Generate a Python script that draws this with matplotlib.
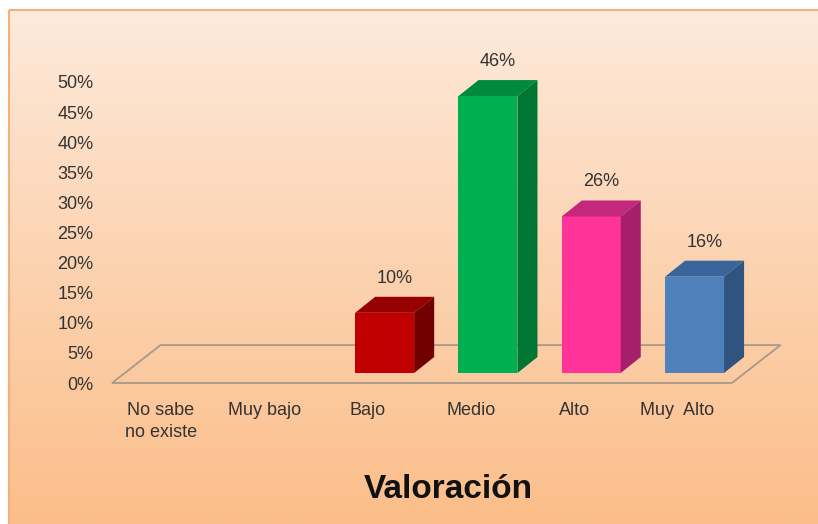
import numpy as np
import matplotlib
matplotlib.use('Agg')
import matplotlib.pyplot as plt
from matplotlib.patches import Polygon, Rectangle

plt.rcParams['font.family'] = ['Liberation Sans', 'DejaVu Sans']

# data
categories = ['No sabe\nno existe', 'Muy bajo', 'Bajo', 'Medio', 'Alto', 'Muy  Alto']
values = [0, 0, 10, 46, 26, 16]
front_colors = ['#C00000', '#C00000', '#C00000', '#00B050', '#FF3399', '#4F81BD']
top_colors = ['#960000', '#960000', '#960000', '#00893F', '#C4287D', '#3A659A']
side_colors = ['#720000', '#720000', '#720000', '#007534', '#A51F6A', '#2F5480']
yticks = list(range(0, 55, 5))
title = 'Valoración'

W, H = 818, 524
fig = plt.figure(figsize=(W / 100, H / 100), dpi=100)

# background gradient with border
bg = fig.add_axes([0, 0, 1, 1])
bg.set_xlim(0, W)
bg.set_ylim(H, 0)
bg.axis('off')
grad = np.linspace(0, 1, 256).reshape(-1, 1)
top_c = np.array([253, 235, 221]) / 255
bot_c = np.array([251, 190, 138]) / 255
img = top_c + (bot_c - top_c) * grad[:, :, None] ** 0.9
bg.imshow(img, extent=[9, W + 5, H, 10], aspect='auto', zorder=0)
bg.add_patch(Rectangle((9, 10), W + 20, H, fill=False, ec='#F0B27A', lw=1.5, zorder=1))

# main axes (front plane)
px_x, px_y = 103.3, 6.02
x0, x1 = -0.6, 6.1
y0, y1 = 0, 60
left = (161 + x0 * px_x) / W
bottom = (H - 383) / H
ax = fig.add_axes([left, bottom, (x1 - x0) * px_x / W, (y1 - y0) * px_y / H])
ax.set_xlim(x0, x1)
ax.set_ylim(y0, y1)
ax.patch.set_visible(False)
for s in ax.spines.values():
    s.set_visible(False)

# floor
dx_f, dy_f = 0.47, 6.3
fl = [(-0.474, 0), (5.527, 0), (5.527 + dx_f, dy_f), (-0.474 + dx_f, dy_f)]
ax.add_patch(Polygon(fl, closed=True, fill=False, ec='#A8988A', lw=1.3, clip_on=False, zorder=1))

# bars
off_x, off_y = 0.165, 1.66
bw = 0.571
ddx, ddy = 0.194, 2.66
xs = np.arange(len(categories))
for i, v in enumerate(values):
    if v <= 0:
        continue
    xl = xs[i] + off_x - bw / 2
    xr = xs[i] + off_x + bw / 2
    yb = off_y
    yt = off_y + v
    ax.bar(xs[i] + off_x, v, width=bw, bottom=off_y, color=front_colors[i], zorder=3, clip_on=False)
    ax.add_patch(Polygon([(xl, yt), (xr, yt), (xr + ddx, yt + ddy), (xl + ddx, yt + ddy)],
                         closed=True, fc=top_colors[i], ec='none', zorder=3, clip_on=False))
    ax.add_patch(Polygon([(xr, yb), (xr + ddx, yb + ddy), (xr + ddx, yt + ddy), (xr, yt)],
                         closed=True, fc=side_colors[i], ec='none', zorder=3, clip_on=False))
    ax.text(xs[i] + off_x + 0.097, v + 7.4, '%d%%' % v, ha='center', va='center',
            fontsize=13, color='#333333')

ax.set_yticks(yticks)
ax.set_yticklabels(['%d%%' % t for t in yticks])
ax.set_xticks(xs)
ax.set_xticklabels(categories, linespacing=1.37)
ax.tick_params(axis='y', length=0, pad=4, labelsize=13, labelcolor='#333333')
ax.tick_params(axis='x', length=0, pad=14, labelsize=13, labelcolor='#333333')

fig.text(448 / W, 1 - 490 / H, title, ha='center', va='center', fontsize=24,
         fontweight='bold', color='#111111')

fig.savefig('out.png', dpi=100)
